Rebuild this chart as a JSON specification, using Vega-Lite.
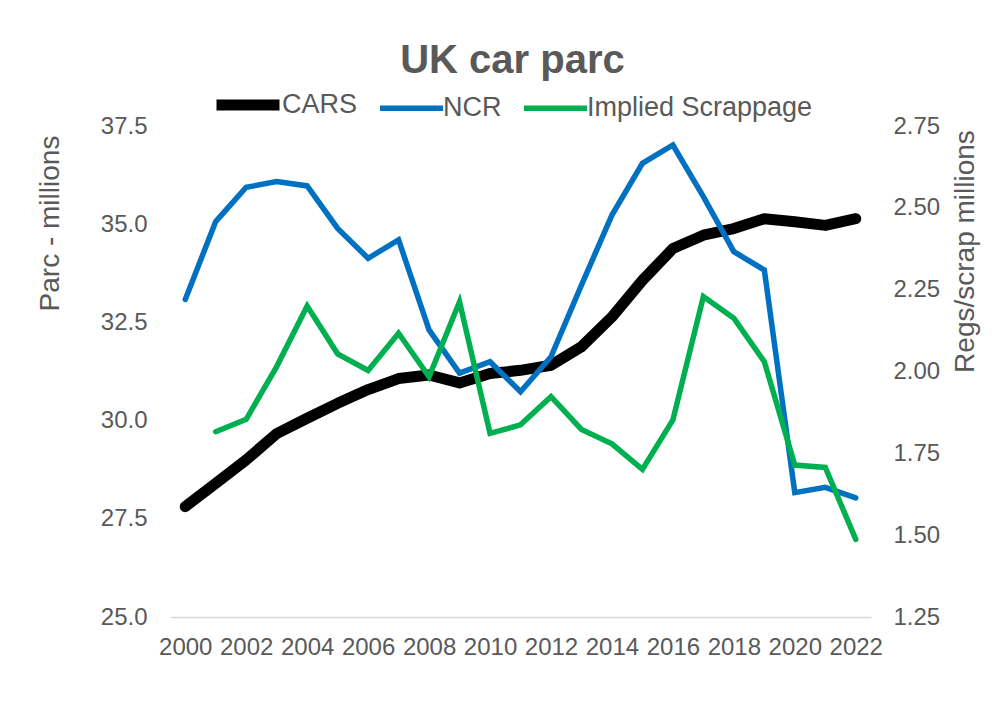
{
  "$schema": "https://vega.github.io/schema/vega-lite/v6.json",
  "width": 701,
  "height": 491,
  "autosize": {"type": "none"},
  "padding": {"left": 170, "top": 126, "right": 128, "bottom": 87},
  "background": "white",
  "config": {
    "view": {"stroke": null},
    "font": "Liberation Sans",
    "axis": {"labelColor": "#595959", "titleColor": "#595959", "labelFont": "Liberation Sans", "titleFont": "Liberation Sans", "titleFontWeight": "normal", "grid": false, "ticks": false}
  },
  "title": {"text": "UK car parc", "fontSize": 40, "fontWeight": "bold", "color": "#595959", "font": "Liberation Sans", "anchor": "middle", "dx": -8, "offset": 20, "dy": 33},
  "data": {"values": [
    {"year": 2000, "series": "CARS", "value": 27.81},
    {"year": 2001, "series": "CARS", "value": 28.40},
    {"year": 2002, "series": "CARS", "value": 29.00},
    {"year": 2003, "series": "CARS", "value": 29.67},
    {"year": 2004, "series": "CARS", "value": 30.06},
    {"year": 2005, "series": "CARS", "value": 30.44},
    {"year": 2006, "series": "CARS", "value": 30.79},
    {"year": 2007, "series": "CARS", "value": 31.07},
    {"year": 2008, "series": "CARS", "value": 31.16},
    {"year": 2009, "series": "CARS", "value": 30.96},
    {"year": 2010, "series": "CARS", "value": 31.20},
    {"year": 2011, "series": "CARS", "value": 31.28},
    {"year": 2012, "series": "CARS", "value": 31.41},
    {"year": 2013, "series": "CARS", "value": 31.88},
    {"year": 2014, "series": "CARS", "value": 32.64},
    {"year": 2015, "series": "CARS", "value": 33.57},
    {"year": 2016, "series": "CARS", "value": 34.38},
    {"year": 2017, "series": "CARS", "value": 34.72},
    {"year": 2018, "series": "CARS", "value": 34.89},
    {"year": 2019, "series": "CARS", "value": 35.14},
    {"year": 2020, "series": "CARS", "value": 35.06},
    {"year": 2021, "series": "CARS", "value": 34.97},
    {"year": 2022, "series": "CARS", "value": 35.14},
    {"year": 2000, "series": "NCR", "value": 2.22},
    {"year": 2001, "series": "NCR", "value": 2.458},
    {"year": 2002, "series": "NCR", "value": 2.563},
    {"year": 2003, "series": "NCR", "value": 2.58},
    {"year": 2004, "series": "NCR", "value": 2.567},
    {"year": 2005, "series": "NCR", "value": 2.437},
    {"year": 2006, "series": "NCR", "value": 2.346},
    {"year": 2007, "series": "NCR", "value": 2.402},
    {"year": 2008, "series": "NCR", "value": 2.127},
    {"year": 2009, "series": "NCR", "value": 1.995},
    {"year": 2010, "series": "NCR", "value": 2.03},
    {"year": 2011, "series": "NCR", "value": 1.938},
    {"year": 2012, "series": "NCR", "value": 2.045},
    {"year": 2013, "series": "NCR", "value": 2.264},
    {"year": 2014, "series": "NCR", "value": 2.478},
    {"year": 2015, "series": "NCR", "value": 2.636},
    {"year": 2016, "series": "NCR", "value": 2.692},
    {"year": 2017, "series": "NCR", "value": 2.534},
    {"year": 2018, "series": "NCR", "value": 2.366},
    {"year": 2019, "series": "NCR", "value": 2.31},
    {"year": 2020, "series": "NCR", "value": 1.63},
    {"year": 2021, "series": "NCR", "value": 1.646},
    {"year": 2022, "series": "NCR", "value": 1.614},
    {"year": 2001, "series": "Implied Scrappage", "value": 1.816},
    {"year": 2002, "series": "Implied Scrappage", "value": 1.854},
    {"year": 2003, "series": "Implied Scrappage", "value": 2.015},
    {"year": 2004, "series": "Implied Scrappage", "value": 2.20},
    {"year": 2005, "series": "Implied Scrappage", "value": 2.054},
    {"year": 2006, "series": "Implied Scrappage", "value": 2.003},
    {"year": 2007, "series": "Implied Scrappage", "value": 2.117},
    {"year": 2008, "series": "Implied Scrappage", "value": 1.984},
    {"year": 2009, "series": "Implied Scrappage", "value": 2.213},
    {"year": 2010, "series": "Implied Scrappage", "value": 1.811},
    {"year": 2011, "series": "Implied Scrappage", "value": 1.837},
    {"year": 2012, "series": "Implied Scrappage", "value": 1.923},
    {"year": 2013, "series": "Implied Scrappage", "value": 1.823},
    {"year": 2014, "series": "Implied Scrappage", "value": 1.779},
    {"year": 2015, "series": "Implied Scrappage", "value": 1.701},
    {"year": 2016, "series": "Implied Scrappage", "value": 1.852},
    {"year": 2017, "series": "Implied Scrappage", "value": 2.229},
    {"year": 2018, "series": "Implied Scrappage", "value": 2.163},
    {"year": 2019, "series": "Implied Scrappage", "value": 2.03},
    {"year": 2020, "series": "Implied Scrappage", "value": 1.714},
    {"year": 2021, "series": "Implied Scrappage", "value": 1.707},
    {"year": 2022, "series": "Implied Scrappage", "value": 1.487}
  ]},
  "encoding": {
    "x": {"field": "year", "type": "quantitative",
      "scale": {"domain": [1999.5, 2022.5], "nice": false, "zero": false},
      "axis": {"title": null, "values": [2000,2002,2004,2006,2008,2010,2012,2014,2016,2018,2020,2022], "format": "d", "labelFontSize": 24, "labelPadding": 18, "domainColor": "#D9D9D9", "domainWidth": 1.5, "labelFlush": false, "labelOverlap": false}},
    "color": {"field": "series", "type": "nominal",
      "scale": {"domain": ["CARS", "NCR", "Implied Scrappage"], "range": ["#000000", "#0070C0", "#00B050"]},
      "legend": {"title": null, "orient": "none", "legendX": 41, "legendY": -58, "direction": "horizontal", "symbolType": "stroke", "symbolSize": 3969, "labelFontSize": 27, "labelColor": "#595959", "labelFont": "Liberation Sans", "labelOffset": -3, "columnPadding": 11, "labelLimit": 400}},
    "strokeWidth": {"field": "series", "type": "nominal",
      "scale": {"type": "ordinal", "domain": ["CARS", "NCR", "Implied Scrappage"], "range": [11, 5.5, 5.5]},
      "legend": {"title": null, "orient": "none", "legendX": 41, "legendY": -58, "direction": "horizontal", "symbolType": "stroke", "symbolSize": 3969, "labelFontSize": 27, "labelColor": "#595959", "labelFont": "Liberation Sans", "labelOffset": -3, "columnPadding": 11, "labelLimit": 400}}
  },
  "layer": [
    {
      "transform": [{"filter": "datum.series === 'CARS'"}],
      "mark": {"type": "line", "strokeCap": "round", "strokeJoin": "round"},
      "encoding": {
        "y": {"field": "value", "type": "quantitative",
          "scale": {"domain": [25, 37.5], "nice": false, "zero": false},
          "axis": {"title": "Parc - millions", "values": [25, 27.5, 30, 32.5, 35, 37.5], "format": ".1f", "domain": false, "labelFontSize": 24, "labelPadding": 23, "titleFontSize": 28, "titleX": -120, "titleY": 97, "titleAlign": "center", "titleBaseline": "middle", "titleAngle": -90}}
      }
    },
    {
      "transform": [{"filter": "datum.series !== 'CARS'"}],
      "mark": {"type": "line", "strokeCap": "round", "strokeJoin": "miter"},
      "encoding": {
        "y": {"field": "value", "type": "quantitative",
          "scale": {"domain": [1.25, 2.75], "nice": false, "zero": false},
          "axis": {"orient": "right", "title": "Regs/scrap millions", "values": [1.25, 1.5, 1.75, 2, 2.25, 2.5, 2.75], "format": ".2f", "domain": false, "labelFontSize": 24, "labelPadding": 22, "titleFontSize": 28, "titleX": 94, "titleY": 125, "titleAlign": "center", "titleBaseline": "middle", "titleAngle": -90}}
      }
    }
  ],
  "resolve": {"scale": {"y": "independent"}}
}
